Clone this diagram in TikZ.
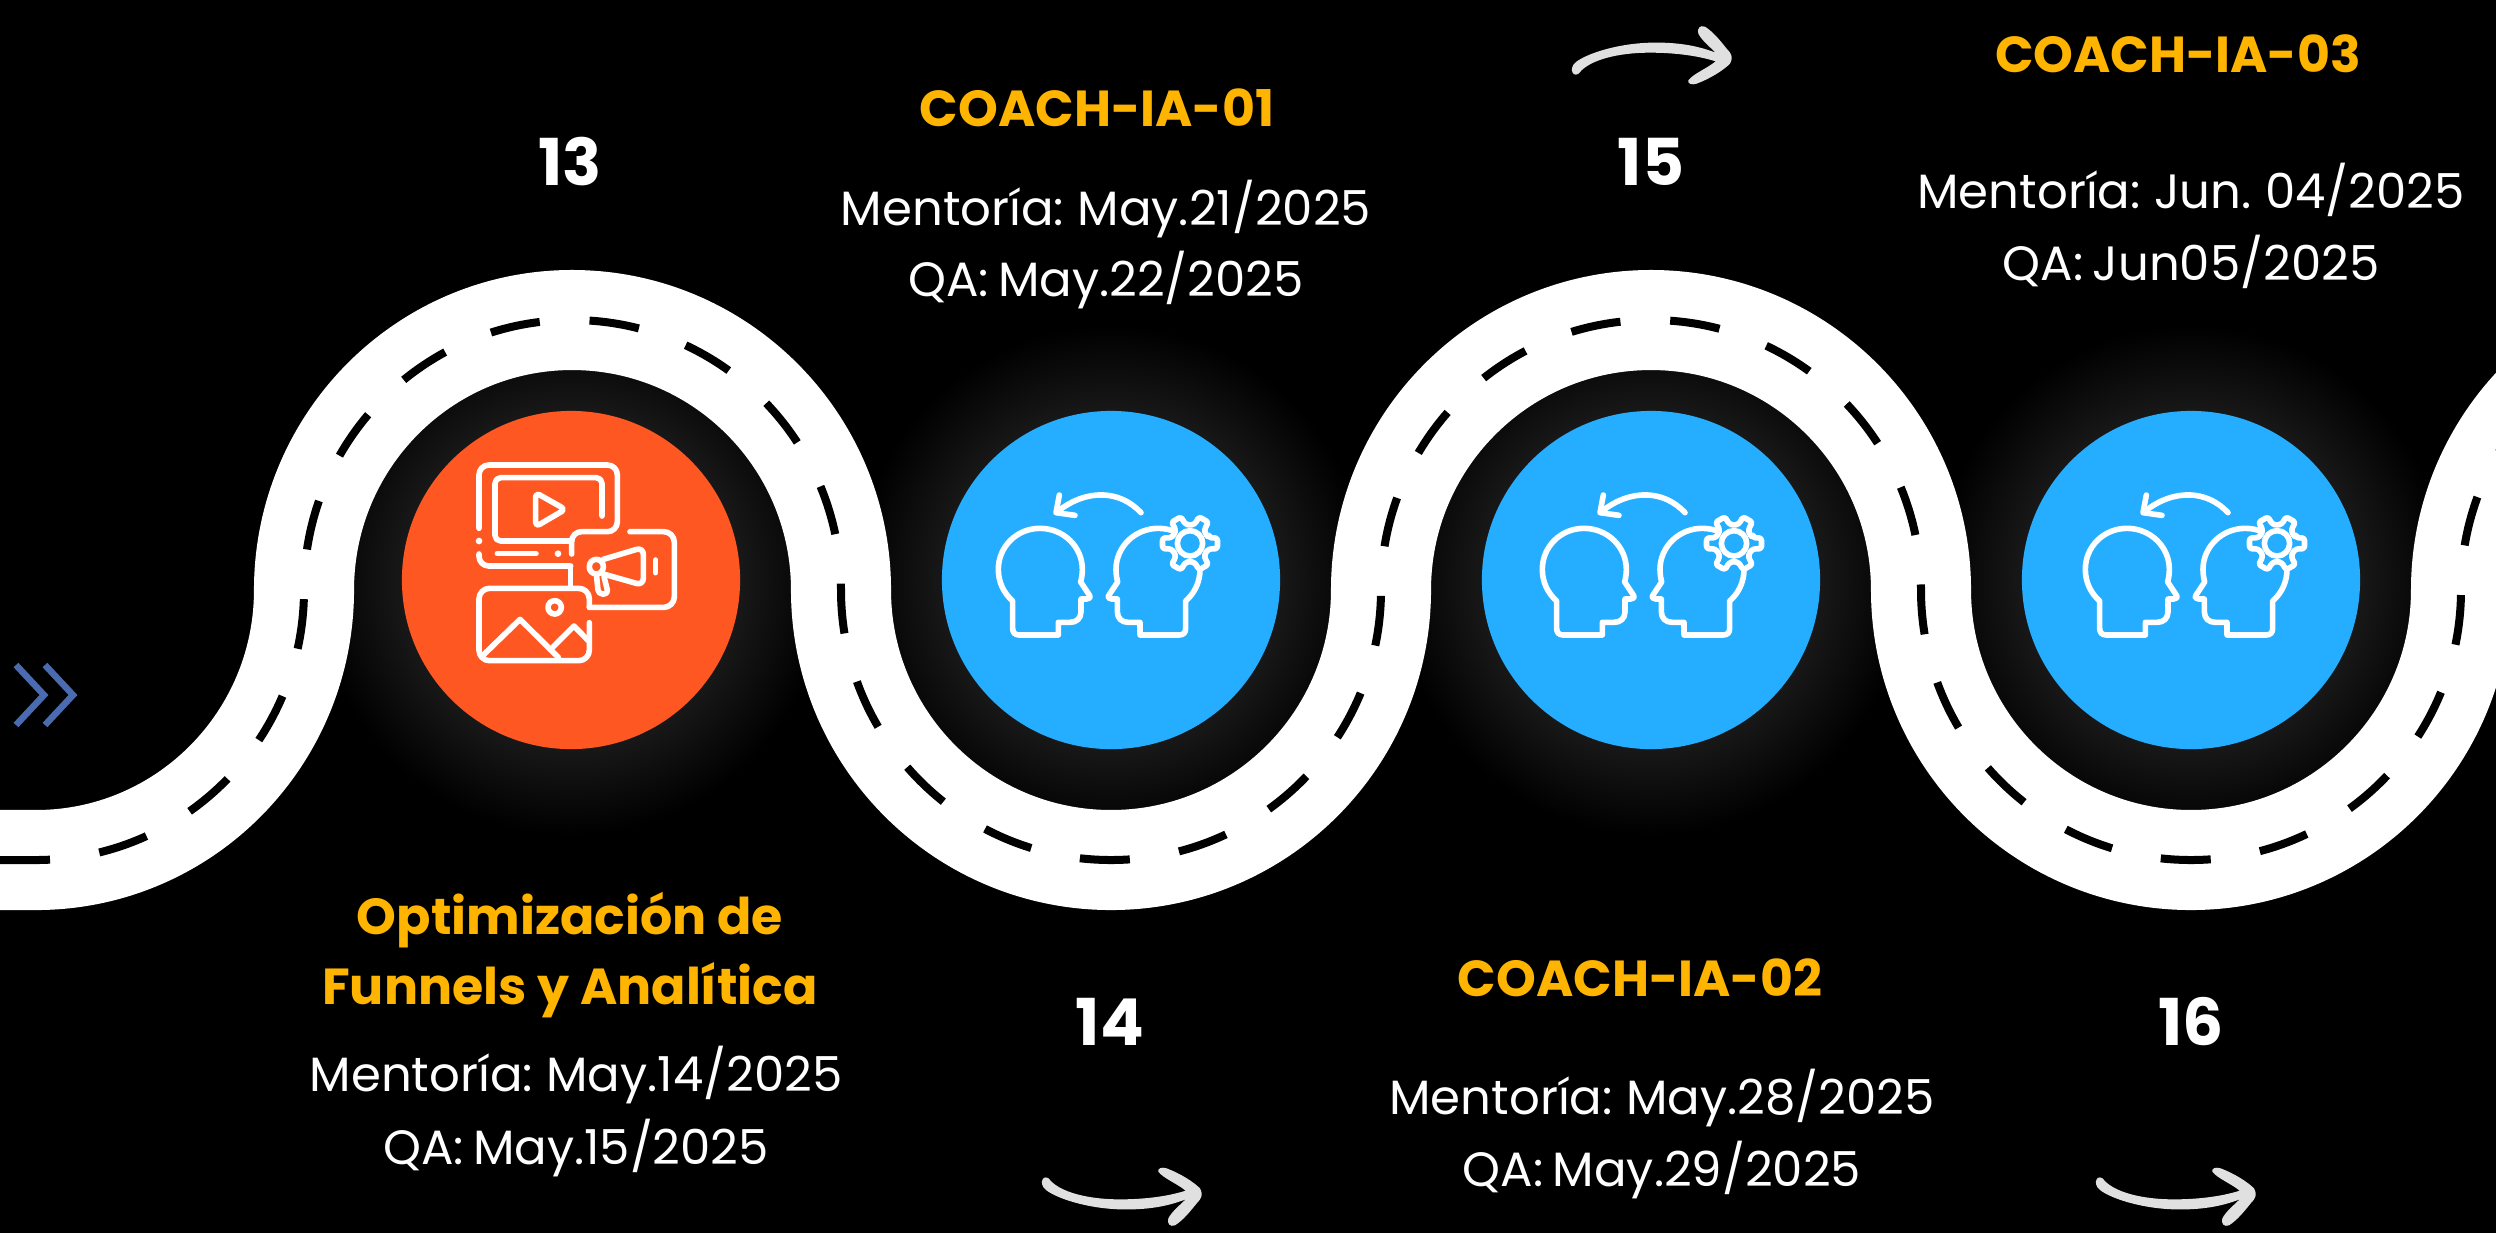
\documentclass[tikz,border=0pt]{standalone}
\usepackage{fontspec}
\setmainfont[WordSpace=0.72]{Poppins}
\newfontfamily\titlefont{Poppins}
\definecolor{spotorange}{HTML}{FF5722}
\definecolor{spotblue}{HTML}{25AEFF}
\definecolor{headgold}{HTML}{FFB400}
\definecolor{chevblue}{HTML}{4A6BB0}
\definecolor{handgray}{HTML}{E0E0E0}
\definecolor{halogray}{HTML}{181818}
\pgfdeclareradialshading{haloshade}{\pgfpointorigin}{color(0bp)=(halogray); color(16.5bp)=(halogray); color(25bp)=(black); color(50bp)=(black)}
\tikzset{
  spot/.style={circle,minimum size=3.38cm,inner sep=0pt},
  title/.style={anchor=base,inner sep=0pt,text=headgold,font=\titlefont\bfseries\fontsize{14.4}{16}\selectfont},
  dates/.style={anchor=base,inner sep=0pt,text=white,font=\fontsize{13.7}{16}\selectfont},
  weeknum/.style={anchor=base,inner sep=0pt,text=white,font=\bfseries\fontsize{18.4}{20}\selectfont},
  iconline/.style={draw=white,line width=0.056cm,line cap=round,line join=round},
}
\begin{document}
\begin{tikzpicture}[x=0.01cm,y=-0.01cm]
	\def\roadline{(0,860)--(36,860) arc[start angle=90,end angle=0,x radius=268,y radius=270]
		arc[start angle=180,end angle=270,x radius=268,y radius=270]
		arc[start angle=270,end angle=360,x radius=269,y radius=270] arc (180:90:270) arc (90:0:270)
		arc (180:270:270) arc (270:360:270) arc (180:90:270) arc (90:0:270) arc (180:270:270)}
	\def\handarrow{(68,118) .. controls (70,110) and (85,110) .. (90,120) .. controls (120,155) and (200,178) .. (300,178)
		.. controls (370,178) and (440,170) .. (497,152) .. controls (470,130) and (430,115) .. (415,95)
		.. controls (412,85) and (425,80) .. (440,85) .. controls (480,100) and (520,125) .. (540,145)
		.. controls (550,165) and (545,175) .. (530,190) .. controls (510,215) and (490,240) .. (465,256)
		.. controls (450,262) and (440,250) .. (445,235) .. controls (455,215) and (480,195) .. (497,178)
		.. controls (440,200) and (380,210) .. (300,208) .. controls (200,205) and (110,175) .. (78,150)
		.. controls (65,140) and (63,125) .. (68,118) -- cycle}
	\def\headline{(278,603) .. controls (250,578) and (235,545) .. (235,508) .. controls (235,440) and (290,385) .. (360,385)
		.. controls (430,385) and (487,440) .. (487,508) .. controls (487,522) and (485,534) .. (482,546)
		-- (508,585) .. controls (513,592) and (508,597) .. (500,597) -- (483,597) -- (483,635)
		.. controls (483,655) and (470,667) .. (450,667) -- (415,667) -- (415,705) -- (298,705)
		.. controls (285,705) and (278,698) .. (278,685) -- cycle}
	\useasboundingbox (0,0) rectangle (2496,1232);
	\fill[black] (-5,-5) rectangle (2501,1237);
	% glow under the spots
	\foreach \cx in {571,1111,1651,2191}
		\shade[shading=haloshade] (\cx,580) circle[radius=255];
	% road
	\draw[white,line width=1cm] \roadline;
	\draw[black,line width=0.08cm,dash pattern=on 0.5cm off 0.498cm] \roadline;
	% chevrons
	\coordinate (chevA) at (44,695);
	\coordinate (chevB) at (73,695);
	\draw[chevblue,line width=0.065cm] (16,665)--(chevA)--(16,725);
	\draw[chevblue,line width=0.065cm] (45,665)--(chevB)--(45,725);
	% spots
	\node[spot,fill=spotorange] (spotA) at (571,580) {};
	\node[spot,fill=spotblue] (spotB) at (1111,580) {};
	\node[spot,fill=spotblue] (spotC) at (1651,580) {};
	\node[spot,fill=spotblue] (spotD) at (2191,580) {};
	% media icon
	\begin{scope}[shift={(380,400)},x=0.01cm/3,y=-0.01cm/3]
		\draw[iconline,rounded corners=2.8pt] (297,385)--(297,195)--(712,195)--(712,395)--(575,395)--(575,462);
		\draw[iconline,rounded corners=1.6pt] (666,348)--(666,233)--(345,233)--(345,423)--(575,423);
		\fill[white] (297,423) circle[radius=10] (534,461) circle[radius=10];
		\draw[iconline] (352,461)--(468,461);
		\draw[iconline,rounded corners=2.8pt] (297,462)--(297,498)--(572,498);
		\draw[iconline] (572,498)--(572,560);
		\draw[iconline,rounded corners=1.2pt] (467,278)--(467,380)--(556,328)--cycle;
		\draw[iconline,rounded corners=3pt] (750,395)--(883,395)--(883,622)--(628,622);
		\draw[iconline,rounded corners=3pt] (628,622)--(628,565)--(297,565)--(297,782)--(628,782)--(628,668);
		\draw[iconline] (524,622) circle[radius=20];
		\draw[iconline] (310,765)--(420,658)--(535,772);
		\draw[iconline] (515,745)--(582,678)--(625,722);
		\draw[iconline] (827,480)--(827,518);
		\draw[iconline,rounded corners=2pt] (670,478)--(790,442)--(790,556)--(670,522);
		\draw[iconline,rounded corners=2pt] (670,522)--(628,522)--(628,478)--(670,478)--cycle;
		\draw[iconline,rounded corners=1.2pt] (650,530)--(655,582)--(685,582)--(672,530);
	\end{scope}
	% coach icons
	\foreach \cx in {0,544,1087}{
		\begin{scope}[shift={(920+\cx,400)},x=0.01cm/3,y=-0.01cm/3]
			\draw[iconline] \headline;
			\begin{scope}[shift={(1075,0)},x=-0.01cm/3]
				\draw[iconline] \headline;
			\end{scope}
			\draw[iconline] (663,338) .. controls (600,270) and (500,265) .. (412,335);
			\draw[iconline] (418,285)--(408,338)--(465,346);
			\begin{scope}[shift={(810,430)}]
				\draw[iconline,fill=spotblue,rounded corners=0.7pt] (-16:60)
					\foreach \t in {0,60,...,300}{ --(\t-16:60)--(\t-11:84)--(\t+11:84)--(\t+16:60)--(\t+30:54) } --cycle;
				\draw[iconline] (0,0) circle[radius=38];
			\end{scope}
		\end{scope}
	}
	% hand arrows
	\begin{scope}[shift={(1550,112)},x=0.01cm/3,y=0.01cm/3]
		\fill[handgray] \handarrow;
	\end{scope}
	\begin{scope}[shift={(1020,1140)},x=0.01cm/3,y=-0.01cm/3]
		\fill[handgray] \handarrow;
	\end{scope}
	\begin{scope}[shift={(2074,1140)},x=0.01cm/3,y=-0.01cm/3]
		\fill[handgray] \handarrow;
	\end{scope}
	% numbers
	\node[weeknum] (numA) at (570,185) {13};
	\node[weeknum] (numB) at (1110,1045) {14};
	\node[weeknum] (numC) at (1651,185) {15};
	\node[weeknum] (numD) at (2191,1045) {16};
	% labels
	\node[title] (titleA) at (570,934) {Optimización de};
	\node[title] (titleAb) at (570,1004) {Funnels y Analítica};
	\node[dates] (mentA) at (576,1091) {Mentoría: May.14/2025};
	\node[dates] (qaA) at (576,1164) {QA: May.15/2025};
	\node[title] (titleB) at (1097,126) {COACH-IA-01};
	\node[dates] (mentB) at (1106,225) {Mentoría: May.21/2025};
	\node[dates] (qaB) at (1106,296) {QA: May.22/2025};
	\node[title] (titleC) at (1640,996) {COACH-IA-02};
	\node[dates] (mentC) at (1662,1114) {Mentoría: May.28/2025};
	\node[dates] (qaC) at (1662,1186) {QA: May.29/2025};
	\node[title] (titleD) at (2178,72) {COACH-IA-03};
	\node[dates] (mentD) at (2191,208) {Mentoría: Jun. 04/2025};
	\node[dates] (qaD) at (2191,280) {QA: Jun05/2025};
\end{tikzpicture}
\end{document}
